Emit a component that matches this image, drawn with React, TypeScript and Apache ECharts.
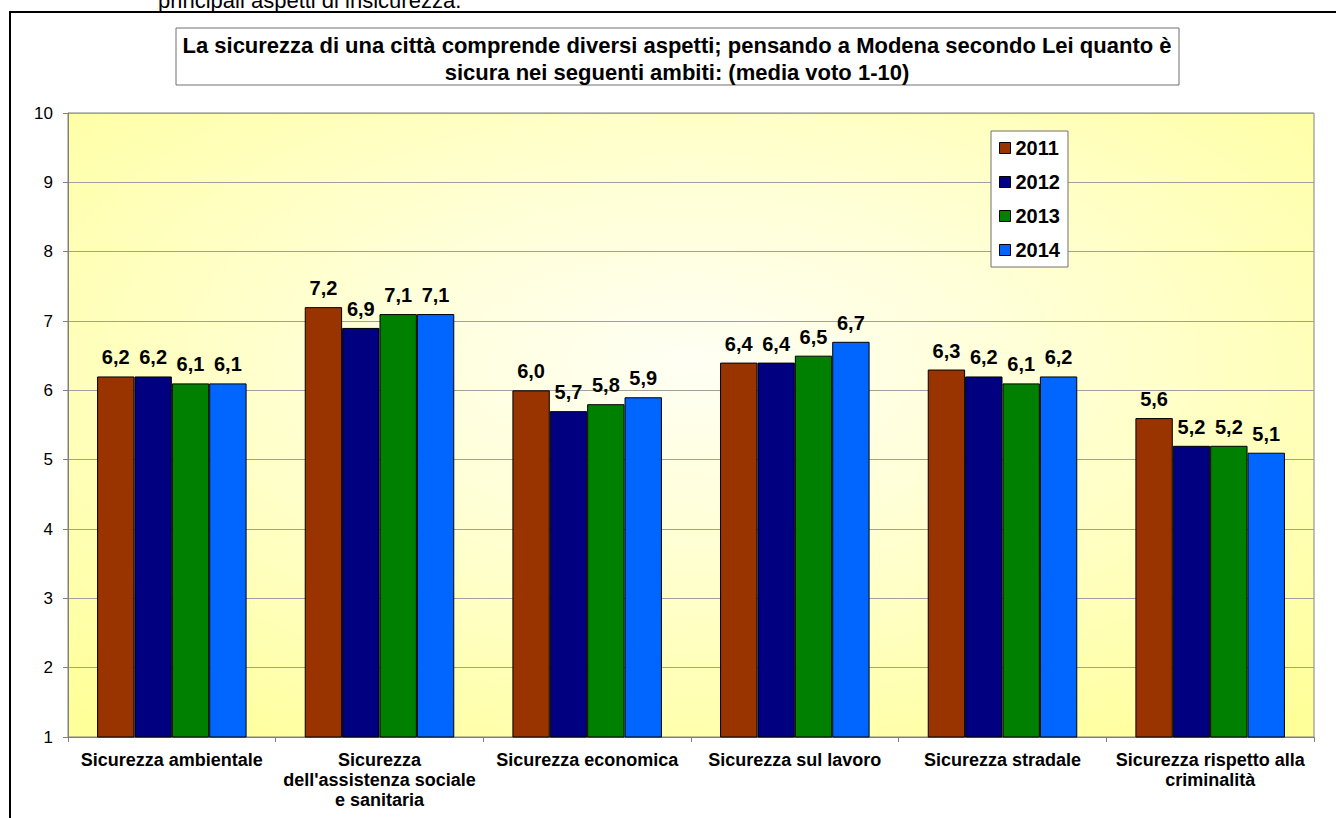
import React, { useEffect, useRef } from "react";
import * as echarts from "echarts";

const categories = [
  "Sicurezza ambientale",
  "Sicurezza\ndell'assistenza sociale\ne sanitaria",
  "Sicurezza economica",
  "Sicurezza sul lavoro",
  "Sicurezza stradale",
  "Sicurezza rispetto alla\ncriminalità",
];
const years = ["2011", "2012", "2013", "2014"];
const values2011 = [6.2, 7.2, 6.0, 6.4, 6.3, 5.6];
const values2012 = [6.2, 6.9, 5.7, 6.4, 6.2, 5.2];
const values2013 = [6.1, 7.1, 5.8, 6.5, 6.1, 5.2];
const values2014 = [6.1, 7.1, 5.9, 6.7, 6.2, 5.1];
const colors = ["#993300", "#000080", "#008000", "#0066FF"];
const titleLines = [
  "La sicurezza di una città comprende diversi aspetti; pensando a Modena secondo Lei quanto è",
  "sicura nei seguenti ambiti: (media voto 1-10)",
];
const topText = "principali aspetti di insicurezza.";

const FONT = "Arial, 'Liberation Sans', sans-serif";

export default function App() {
  const ref = useRef<HTMLDivElement>(null);
  useEffect(() => {
    if (!ref.current) return;
    const chart = echarts.init(ref.current, null, { renderer: "svg" });
    const seriesValues = [values2011, values2012, values2013, values2014];
    chart.setOption({
      animation: false,
      backgroundColor: "#ffffff",
      textStyle: { fontFamily: FONT },
      graphic: [
        {
          type: "text",
          left: 158,
          top: -11,
          style: { text: topText, font: `22px ${FONT}`, fill: "#000" },
        },
        {
          type: "rect",
          shape: { x: 10, y: 12, width: 1340, height: 820 },
          style: { fill: "none", stroke: "#000", lineWidth: 2 },
          z: 10,
        },
        {
          type: "rect",
          shape: { x: 176, y: 28, width: 1003, height: 57 },
          style: { fill: "#fff", stroke: "#707070", lineWidth: 1 },
          z: 10,
        },
        {
          type: "text",
          x: 677,
          y: 45,
          z: 11,
          style: {
            text: titleLines[0],
            font: `bold 22px ${FONT}`,
            fill: "#000",
            align: "center",
            verticalAlign: "middle",
          },
        },
        {
          type: "text",
          x: 677,
          y: 72,
          z: 11,
          style: {
            text: titleLines[1],
            font: `bold 22px ${FONT}`,
            fill: "#000",
            align: "center",
            verticalAlign: "middle",
          },
        },
      ],
      legend: {
        data: years,
        orient: "vertical",
        left: 991,
        top: 131,
        backgroundColor: "#fff",
        borderColor: "#707070",
        borderWidth: 1,
        padding: [7, 8, 7, 8],
        itemWidth: 11,
        itemHeight: 11,
        itemGap: 14,
        itemTextGap: 5,
        icon: "rect",
        itemStyle: { borderColor: "#000", borderWidth: 1 },
        textStyle: { fontSize: 20, fontWeight: "bold", color: "#000", lineHeight: 20, fontFamily: FONT },
      },
      grid: {
        left: 68,
        right: 22,
        top: 113,
        bottom: 81,
        show: true,
        borderColor: "#808080",
        borderWidth: 1,
        backgroundColor: {
          type: "radial",
          x: 0.5,
          y: 0.4,
          r: 0.75,
          colorStops: [
            { offset: 0, color: "#FFFFF4" },
            { offset: 0.35, color: "#FFFFD8" },
            { offset: 1, color: "#FFFF99" },
          ],
        },
      },
      xAxis: {
        type: "category",
        data: categories,
        axisLine: { lineStyle: { color: "#808080", width: 1 } },
        axisTick: { show: true, alignWithLabel: false, length: 5, lineStyle: { color: "#808080" } },
        axisLabel: {
          interval: 0,
          margin: 13,
          color: "#000",
          fontSize: 18,
          fontWeight: "bold",
          lineHeight: 20,
          fontFamily: FONT,
        },
      },
      yAxis: {
        type: "value",
        min: 1,
        max: 10,
        interval: 1,
        axisLine: { show: true, lineStyle: { color: "#808080" } },
        axisTick: { show: true, length: 5, lineStyle: { color: "#808080" } },
        axisLabel: { color: "#000", fontSize: 17, margin: 15, fontFamily: FONT },
        splitLine: { show: true, lineStyle: { color: "#A0A0A0", width: 1 } },
      },
      series: years.map((y, i) => ({
        name: y,
        type: "bar",
        data: seriesValues[i],
        barGap: "0%",
        barCategoryGap: "28%",
        itemStyle: { color: colors[i], borderColor: "#000", borderWidth: 1 },
        label: {
          show: true,
          position: "top",
          distance: 9,
          color: "#000",
          fontSize: 20,
          fontWeight: "bold",
          fontFamily: FONT,
          formatter: (p: any) => Number(p.value).toFixed(1).replace(".", ","),
        },
      })),
    });
    return () => chart.dispose();
  }, []);
  return (
    <div
      ref={ref}
      style={{ position: "fixed", left: 0, top: 0, width: 1336, height: 818 }}
    />
  );
}
